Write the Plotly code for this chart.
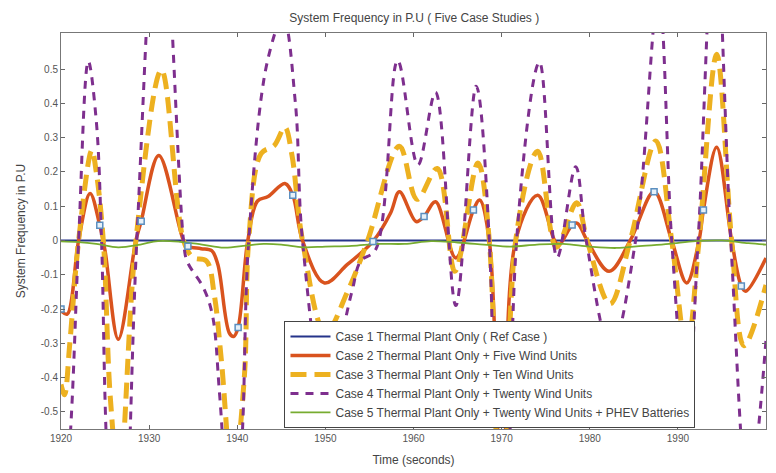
import plotly.graph_objects as go

# Case 1 - thermal plant only (reference, flat)
t1 = [1920, 2000]
f1 = [0.0, 0.0]

# Case 2 - thermal + five wind units
t2 = [1920.0, 1920.7, 1922.0, 1923.3, 1924.4, 1925.0, 1926.5, 1928.5, 1929.1, 1931.1,
      1933.9, 1934.4, 1935.9, 1937.1, 1937.8, 1939.1, 1939.6, 1940.1, 1941.2, 1942.3,
      1943.5, 1945.4, 1946.3, 1947.4, 1949.9, 1952.5, 1955.4, 1957.4, 1958.4, 1960.3,
      1961.2, 1962.5, 1964.8, 1966.8, 1967.5, 1968.6, 1970.2, 1971.6, 1974.1, 1976.0,
      1976.5, 1978.0, 1978.6, 1979.7, 1982.2, 1984.6, 1987.3, 1989.3, 1991.0, 1992.4,
      1992.9, 1994.4, 1996.1, 1997.2, 1997.7, 2000.0]
f2 = [-0.205, -0.215, 0.0, 0.137, 0.044, -0.03, -0.288, 0.0, 0.056, 0.248,
      0.0, -0.017, -0.024, -0.03, -0.07, -0.27, -0.28, -0.254, 0.0, 0.115,
      0.128, 0.166, 0.132, 0.0, -0.124, -0.07, -0.003, 0.08, 0.142, 0.055,
      0.07, 0.113, -0.051, 0.089, 0.118, 0.0, -1.0, 0.0, 0.132, 0.0,
      -0.013, 0.045, 0.05, 0.0, -0.09, 0.0, 0.142, 0.0, -0.124, 0.0,
      0.089, 0.272, 0.0, -0.133, -0.148, -0.051]

# Case 3 - thermal + ten wind units
t3 = [1920.0, 1920.4, 1921.0, 1922.0, 1923.5, 1924.0, 1924.8, 1925.6, 1926.6, 1928.5,
      1931.4, 1933.9, 1935.0, 1936.5, 1937.4, 1938.2, 1939.5, 1940.8, 1941.3, 1942.7,
      1944.2, 1945.4, 1946.2, 1947.4, 1950.0, 1952.5, 1954.8, 1958.4, 1960.4, 1962.7,
      1964.7, 1967.3, 1968.6, 1970.2, 1971.6, 1974.1, 1976.2, 1978.5, 1979.7, 1982.3,
      1984.6, 1987.5, 1989.3, 1991.0, 1992.4, 1994.4, 1996.1, 1997.5, 2000.0]
f3 = [-0.42, -0.45, -0.3, 0.0, 0.263, 0.2, 0.0, -0.46, -0.7, 0.0,
      0.497, 0.0, -0.05, -0.06, -0.16, -0.35, -0.7, -0.4, 0.0, 0.253,
      0.277, 0.33, 0.25, 0.0, -0.27, -0.15, 0.0, 0.275, 0.12, 0.21,
      -0.09, 0.226, 0.0, -1.5, 0.0, 0.26, -0.02, 0.11, 0.0, -0.185,
      0.0, 0.29, 0.0, -0.32, 0.0, 0.543, 0.0, -0.307, -0.13]

# Case 4 - thermal + twenty wind units
t4 = [1920.0, 1921.2, 1922.0, 1923.1, 1924.0, 1924.6, 1925.1, 1926.6, 1928.6, 1931.2,
      1933.9, 1934.3, 1936.2, 1937.2, 1938.0, 1939.6, 1940.6, 1941.3, 1943.4, 1945.2,
      1946.6, 1947.4, 1950.2, 1952.4, 1953.1, 1954.0, 1955.7, 1958.2, 1960.5, 1962.5,
      1964.8, 1967.1, 1968.6, 1970.2, 1971.7, 1974.3, 1976.3, 1978.4, 1979.6, 1982.4,
      1985.2, 1987.8, 1989.3, 1991.0, 1992.3, 1994.2, 1996.0, 1998.0, 2000.0]
f4 = [-1.0, -0.5, 0.0, 0.523, 0.35, 0.0, -0.55, -1.4, 0.0, 1.1,
      0.0, -0.06, -0.14, -0.22, -0.45, -1.0, -0.55, 0.0, 0.52, 0.65,
      0.4, 0.0, -0.5, -0.216, -0.14, -0.06, -0.027, 0.525, 0.22, 0.432,
      -0.19, 0.45, 0.0, -2.5, 0.0, 0.52, -0.05, 0.215, 0.0, -0.32,
      0.0, 0.72, 0.0, -0.5, 0.0, 0.95, 0.0, -0.75, -0.29]

# Case 5 - thermal + twenty wind units + PHEV batteries
t5 = [1920, 1922, 1924, 1926.5, 1929, 1931, 1933.5, 1936, 1938.5, 1941, 1943, 1945,
      1947.5, 1950, 1953, 1956, 1959, 1962, 1965, 1968, 1971, 1974, 1977, 1980,
      1983, 1986, 1989, 1992, 1995, 1998, 2000]
f5 = [-0.003, -0.005, -0.01, -0.02, -0.012, -0.002, -0.004, -0.012, -0.021, -0.015, -0.01, -0.012,
      -0.02, -0.018, -0.016, -0.01, -0.01, -0.002, -0.006, -0.012, -0.018, -0.012, -0.01, -0.018,
      -0.022, -0.016, -0.01, -0.002, 0.0, -0.008, -0.012]

# square markers sitting on the case 2 curve
tm = [1920.0, 1924.4, 1929.1, 1934.4, 1940.1, 1946.3, 1955.4, 1961.2, 1966.8, 1978.0,
      1987.3, 1992.9, 1997.2]
fm = [-0.2, 0.044, 0.056, -0.017, -0.254, 0.132, -0.003, 0.07, 0.089, 0.045,
      0.142, 0.089, -0.133]

names = [
    "Case 1 Thermal Plant Only ( Ref Case )",
    "Case 2 Thermal Plant Only + Five Wind Units",
    "Case 3 Thermal Plant Only + Ten Wind Units",
    "Case 4 Thermal Plant Only + Twenty Wind Units",
    "Case 5 Thermal Plant Only + Twenty Wind Units + PHEV Batteries",
]

fig = go.Figure()
fig.add_trace(go.Scatter(x=t1, y=f1, mode="lines", name=names[0],
                         line=dict(color="#25338a", width=2)))
fig.add_trace(go.Scatter(x=t2, y=f2, mode="lines", name=names[1],
                         line=dict(color="#d9531e", width=3.5, shape="spline", smoothing=1)))
fig.add_trace(go.Scatter(x=t3, y=f3, mode="lines", name=names[2],
                         line=dict(color="#edb120", width=5, dash="16px,8px", shape="spline", smoothing=1)))
fig.add_trace(go.Scatter(x=t4, y=f4, mode="lines", name=names[3],
                         line=dict(color="#7e2f8e", width=3, dash="8px,7px", shape="spline", smoothing=1)))
fig.add_trace(go.Scatter(x=t5, y=f5, mode="lines", name=names[4],
                         line=dict(color="#77ac30", width=1.8, shape="spline", smoothing=1)))
fig.add_trace(go.Scatter(x=tm, y=fm, mode="markers", showlegend=False,
                         marker=dict(symbol="square", size=6, color="#e6f0f8",
                                     line=dict(color="#5b8fc0", width=1.5))))

# the page body has an 8px margin, so the figure is sized/offset to compensate
fig.update_layout(
    width=768, height=465,
    margin=dict(l=53, r=9, t=25, b=33),
    plot_bgcolor="white", paper_bgcolor="white",
    font=dict(family="Arial, Liberation Sans, sans-serif", size=10, color="#555"),
    title=dict(text="System Frequency in P.U ( Five Case Studies )", x=0.529, xref="container",
               y=0.978, yref="container", xanchor="center", yanchor="middle",
               font=dict(size=12, color="#444")),
    showlegend=True,
    legend=dict(x=0.317, y=0.273, xanchor="left", yanchor="top", bgcolor="white",
                bordercolor="#444", borderwidth=1, font=dict(size=12, color="#444"),
                tracegroupgap=0, itemwidth=40),
)
fig.update_xaxes(range=[1920, 2000], tickvals=[1920, 1930, 1940, 1950, 1960, 1970, 1980, 1990, 2000],
                 ticks="inside", ticklen=4, tickcolor="#666", showline=True, linecolor="#777",
                 linewidth=1, mirror="ticks", showgrid=False, zeroline=False,
                 title=dict(text="Time (seconds)", font=dict(size=12, color="#444"), standoff=12))
fig.update_yaxes(range=[-0.55, 0.605], tickvals=[-0.5, -0.4, -0.3, -0.2, -0.1, 0, 0.1, 0.2, 0.3, 0.4, 0.5],
                 ticktext=["-0.5", "-0.4", "-0.3", "-0.2", "-0.1", "0", "0.1", "0.2", "0.3", "0.4", "0.5"],
                 ticks="inside", ticklen=4, tickcolor="#666", showline=True, linecolor="#777",
                 linewidth=1, mirror="ticks", showgrid=False, zeroline=False,
                 title=dict(text="System Frequency in P.U", font=dict(size=12, color="#444"), standoff=12))

fig.write_html("out.html")
